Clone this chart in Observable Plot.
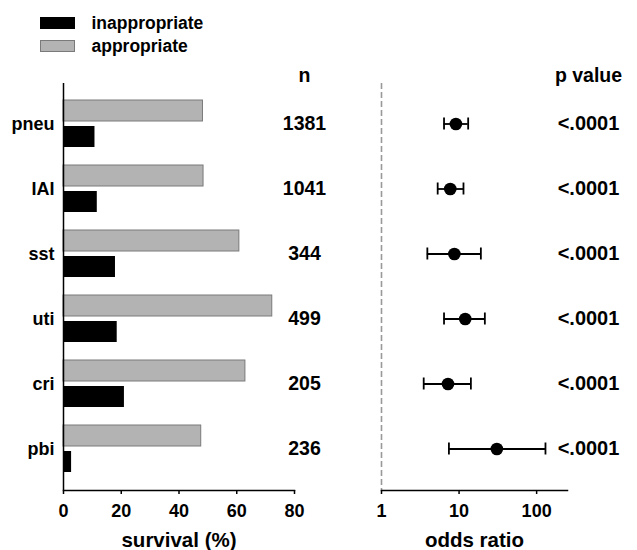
<!DOCTYPE html>
<html>
<head>
<meta charset="utf-8">
<script src="https://cdn.jsdelivr.net/npm/d3@7"></script>
<script src="https://cdn.jsdelivr.net/npm/@observablehq/plot@0.6"></script>
<style>
  html, body { margin: 0; padding: 0; background: #fff; }
  #chart { position: relative; width: 637px; height: 550px; font-family: "Liberation Sans", Arial, sans-serif; font-weight: bold; color: #000; }
  #chart svg { position: absolute; top: 0; }
  .lg-swatch { position: absolute; width: 35px; height: 12px; box-sizing: border-box; }
  .lg-label { position: absolute; font-size: 17.5px; line-height: 20px; white-space: nowrap; }
</style>
</head>
<body>
<div id="chart"></div>
<script>
// ---- data ----
const categories = ["pneu", "IAI", "sst", "uti", "cri", "pbi"];
const appropriate = [48.3, 48.5, 60.9, 72.3, 63.0, 47.7];
const inappropriate = [10.9, 11.7, 18.0, 18.6, 21.1, 2.8];
const nValues = [1381, 1041, 344, 499, 205, 236];
const oddsRatio = [9.1, 7.7, 8.7, 12.0, 7.2, 30.7];
const ciLow = [6.4, 5.3, 3.9, 6.4, 3.5, 7.4];
const ciHigh = [13.1, 11.4, 19.1, 21.5, 14.2, 130];
const pValues = ["<.0001", "<.0001", "<.0001", "<.0001", "<.0001", "<.0001"];
const survivalTicks = [0, 20, 40, 60, 80];
const oddsTicks = [1, 10, 100];
const legendLabels = ["inappropriate", "appropriate"];
const legendColors = ["#000000", "#b3b3b3"];

const rows = categories.map((c, i) => ({
  category: c,
  appropriate: appropriate[i],
  inappropriate: inappropriate[i],
  n: String(nValues[i]),
  or: oddsRatio[i],
  lo: ciLow[i],
  hi: ciHigh[i],
  p: pValues[i]
}));

const FONT = '"Liberation Sans", Arial, sans-serif';
const baseStyle = { fontFamily: FONT, fontWeight: "bold", color: "#000", background: "transparent", overflow: "visible" };
const yBand = { domain: categories, paddingInner: 0.272, paddingOuter: 0.243 };

const chart = document.getElementById("chart");

// ---- legend ----
legendLabels.forEach((lab, i) => {
  const sw = document.createElement("div");
  sw.className = "lg-swatch";
  sw.style.left = "40px";
  sw.style.top = (17.3 + i * 22.9) + "px";
  sw.style.background = legendColors[i];
  sw.style.border = i === 1 ? "1px solid #7a7a7a" : "none";
  chart.appendChild(sw);
  const tx = document.createElement("div");
  tx.className = "lg-label";
  tx.style.left = "91.5px";
  tx.style.top = (12.8 + i * 22.9) + "px";
  tx.textContent = lab;
  chart.appendChild(tx);
});

// ---- left panel: survival bars ----
const left = Plot.plot({
  width: 340,
  height: 550,
  marginLeft: 63,
  marginRight: 46,
  marginTop: 83,
  marginBottom: 60,
  style: baseStyle,
  x: { domain: [0, 80] },
  y: yBand,
  marks: [
    Plot.barX(rows, { y: "category", x: "appropriate", fill: "#b3b3b3", stroke: "#7a7a7a", strokeWidth: 1, insetBottom: 26 }),
    Plot.barX(rows, { y: "category", x: "inappropriate", fill: "#000", insetTop: 26 }),
    Plot.ruleX([0], { stroke: "#000", strokeWidth: 1.5 }),
    Plot.frame({ anchor: "bottom", stroke: "#000", strokeWidth: 1.5 }),
    Plot.axisX({ ticks: survivalTicks, tickFormat: d => String(d), tickSize: 4, tickPadding: 10, fontSize: 18, strokeWidth: 1.5, label: null }),
    Plot.axisY({ tickSize: 0, tickPadding: 9, fontSize: 18, label: null }),
    Plot.text(rows, { y: "category", text: "n", frameAnchor: "right", textAnchor: "middle", dx: 10, fontSize: 19.5 }),
    Plot.text(["n"], { text: d => d, frameAnchor: "top-right", textAnchor: "middle", dx: 10, dy: -1.5, lineAnchor: "bottom", fontSize: 19.5 }),
    Plot.text(["survival (%)"], { text: d => d, frameAnchor: "bottom", dy: 56, lineAnchor: "bottom", fontSize: 20.5 })
  ]
});
left.style.left = "0px";
left.style.position = "absolute";
left.style.top = "0px";
chart.appendChild(left);

// ---- right panel: odds ratio forest plot ----
const right = Plot.plot({
  width: 297,
  height: 550,
  marginLeft: 41,
  marginRight: 70,
  marginTop: 83,
  marginBottom: 60,
  style: baseStyle,
  x: { type: "log", domain: [1, 250] },
  y: { ...yBand, axis: null },
  marks: [
    Plot.ruleX([1], { stroke: "#999", strokeWidth: 1.6, strokeDasharray: "6,3" }),
    Plot.frame({ anchor: "bottom", stroke: "#000", strokeWidth: 1.5 }),
    Plot.axisX({ ticks: oddsTicks, tickFormat: d => String(d), tickSize: 4, tickPadding: 10, fontSize: 18, strokeWidth: 1.5, label: null }),
    Plot.ruleY(rows, { y: "category", x1: "lo", x2: "hi", stroke: "#000", strokeWidth: 1.8 }),
    Plot.tickX(rows, { y: "category", x: "lo", stroke: "#000", strokeWidth: 1.8, insetTop: 17.5, insetBottom: 17.5 }),
    Plot.tickX(rows, { y: "category", x: "hi", stroke: "#000", strokeWidth: 1.8, insetTop: 17.5, insetBottom: 17.5 }),
    Plot.dot(rows, { y: "category", x: "or", r: 6.3, fill: "#000" }),
    Plot.text(rows, { y: "category", text: "p", frameAnchor: "right", textAnchor: "middle", dx: 21, fontSize: 20 }),
    Plot.text(["p value"], { text: d => d, frameAnchor: "top-right", textAnchor: "middle", dx: 21, dy: -1.5, lineAnchor: "bottom", fontSize: 19.5 }),
    Plot.text(["odds ratio"], { text: d => d, frameAnchor: "bottom", dy: 56, lineAnchor: "bottom", fontSize: 20.5 })
  ]
});
right.style.left = "340px";
right.style.position = "absolute";
right.style.top = "0px";
chart.appendChild(right);
</script>
</body>
</html>
